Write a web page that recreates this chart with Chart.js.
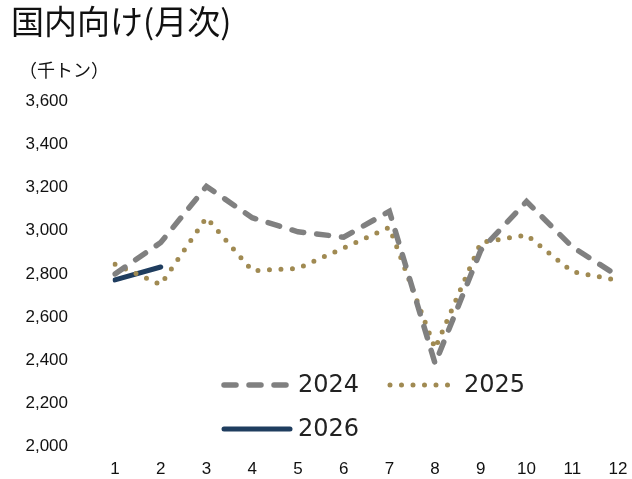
<!DOCTYPE html>
<html>
<head>
<meta charset="utf-8">
<script src="https://cdn.jsdelivr.net/npm/chart.js@4/dist/chart.umd.min.js"></script>
<style>
  html, body { margin: 0; padding: 0; background: #fff; }
  #wrap { position: relative; width: 632px; height: 479px; overflow: hidden; }
  #title { position: absolute; left: 11px; top: -4px; font: 33px "Noto Sans CJK JP", sans-serif; color: #111; white-space: nowrap; }
  #unit { position: absolute; left: 19px; top: 56px; font: 18px "Noto Sans CJK JP", sans-serif; color: #111; white-space: nowrap; }
  canvas { position: absolute; left: 0; top: 0; }
</style>
</head>
<body>
<div id="wrap">
  <canvas id="chart" width="632" height="504"></canvas>
  <div id="title">国内向け(月次)</div>
  <div id="unit">（千トン）</div>
</div>
<script>
// 月
const months = ["1", "2", "3", "4", "5", "6", "7", "8", "9", "10", "11", "12"];
// 系列（千トン）
const data2024 = [2800, 2945, 3205, 3060, 2995, 2970, 3090, 2385, 2910, 3135, 2925, 2790];
const data2025 = [2845, 2750, 3060, 2815, 2825, 2920, 3015, 2455, 2945, 2980, 2810, 2770];
const data2026 = [2772, 2832];

// 凡例をグラフ内に描く
const legendInside = {
  id: "legendInside",
  afterDraw(chart) {
    const ctx = chart.ctx;
    const items = [
      { i: 0, x: 224, y: 385 },
      { i: 1, x: 390, y: 385 },
      { i: 2, x: 224, y: 429 }
    ];
    items.forEach((it) => {
      const ds = chart.data.datasets[it.i];
      ctx.save();
      ctx.strokeStyle = ds.borderColor;
      ctx.lineWidth = ds.borderWidth;
      ctx.lineCap = ds.borderCapStyle || "round";
      ctx.setLineDash(ds.borderDash || []);
      ctx.beginPath();
      ctx.moveTo(it.x, it.y);
      ctx.lineTo(it.x + 66, it.y);
      ctx.stroke();
      ctx.setLineDash([]);
      ctx.fillStyle = "#222";
      ctx.font = '24px "DejaVu Sans", sans-serif';
      ctx.textBaseline = "middle";
      ctx.fillText(ds.label, it.x + 74, it.y + 1);
      ctx.restore();
    });
  }
};

new Chart(document.getElementById("chart"), {
  type: "line",
  data: {
    labels: months,
    datasets: [
      {
        label: "2024",
        data: data2024,
        borderColor: "#808080",
        borderWidth: 5.5,
        borderDash: [12, 13],
        borderCapStyle: "round",
        pointRadius: 0,
        tension: 0
      },
      {
        label: "2025",
        data: data2025,
        borderColor: "#A08A52",
        borderWidth: 5,
        borderDash: [0, 11.5],
        borderCapStyle: "round",
        pointRadius: 0,
        tension: 0
      },
      {
        label: "2026",
        data: data2026,
        borderColor: "#1F3D5F",
        borderWidth: 5,
        borderCapStyle: "round",
        pointRadius: 0,
        tension: 0
      }
    ]
  },
  options: {
    responsive: false,
    animation: false,
    layout: { autoPadding: false, padding: { top: 101, right: 14, bottom: 0, left: 0 } },
    plugins: { legend: { display: false }, tooltip: { enabled: false } },
    scales: {
      x: {
        offset: false,
        grid: { display: false, drawTicks: false },
        border: { display: false },
        afterFit(scale) {
          scale.height = 34;
          scale.paddingLeft = 0;
          scale.paddingRight = 0;
        },
        ticks: {
          color: "#111",
          font: { family: "Liberation Sans", size: 17 },
          padding: 12,
          maxRotation: 0,
          autoSkip: false
        }
      },
      y: {
        min: 2000,
        max: 3600,
        grid: { display: false, drawTicks: false },
        border: { display: false },
        afterFit(scale) { scale.width = 115; },
        ticks: {
          stepSize: 200,
          color: "#111",
          font: { family: "Liberation Sans", size: 17 },
          padding: 47,
          callback: (v) => v.toLocaleString("en-US")
        }
      }
    }
  },
  plugins: [legendInside]
});
</script>
</body>
</html>
